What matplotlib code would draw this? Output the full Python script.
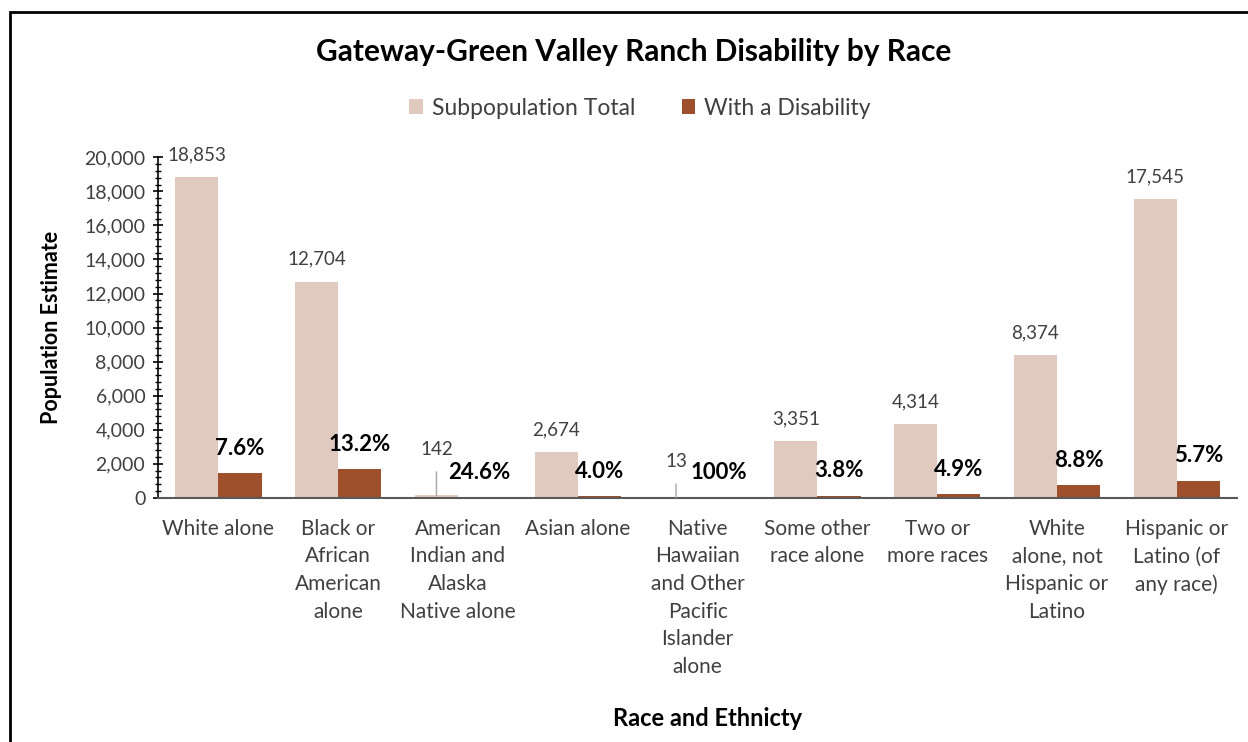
import matplotlib.pyplot as plt
from matplotlib.patches import Rectangle
from matplotlib.ticker import MultipleLocator, FuncFormatter

plt.rcParams['font.family'] = ['Lato', 'DejaVu Sans']

categories = ["White alone", "Black or\nAfrican\nAmerican\nalone",
              "American\nIndian and\nAlaska\nNative alone", "Asian alone",
              "Native\nHawaiian\nand Other\nPacific\nIslander\nalone",
              "Some other\nrace alone", "Two or\nmore races",
              "White\nalone, not\nHispanic or\nLatino",
              "Hispanic or\nLatino (of\nany race)"]
totals = [18853, 12704, 142, 2674, 13, 3351, 4314, 8374, 17545]
disabled = [1433, 1677, 35, 107, 13, 127, 211, 737, 1000]
pct_labels = ["7.6%", "13.2%", "24.6%", "4.0%", "100%", "3.8%", "4.9%", "8.8%", "5.7%"]

pale = "#e0cac0"
dark = "#9e4f2b"
grey = "#404040"

fig = plt.figure(figsize=(12.48, 7.42), dpi=100)
ax = fig.add_axes([0.127, 0.329, 0.864, 0.459])

x = list(range(len(categories)))
w = 0.36
ax.bar([i - w / 2 for i in x], totals, width=w, color=pale, label="Subpopulation Total")
ax.bar([i + w / 2 for i in x], disabled, width=w, color=dark, label="With a Disability")

# labels for subpopulation totals (leader lines for tiny bars)
for i, v in enumerate(totals):
    if v < 500:
        off = 46 if v > 100 else 36
        ax.annotate(f"{v:,}", xy=(i - w / 2, v), xytext=(0, off * 0.72),
                    textcoords="offset points", ha="center", va="center",
                    fontsize=13.5, color=grey,
                    arrowprops=dict(arrowstyle="-", color="#a6a6a6", lw=1,
                                    shrinkA=8, shrinkB=0))
    else:
        ax.annotate(f"{v:,}", xy=(i - w / 2, v), xytext=(0, 16),
                    textcoords="offset points", ha="center", va="center",
                    fontsize=13.5, color=grey)

for i, v in enumerate(disabled):
    ax.annotate(pct_labels[i], xy=(i + w / 2, v), xytext=(0, 18),
                textcoords="offset points", ha="center", va="center",
                fontsize=16, fontweight="bold", color="black")

ax.set_xlim(-0.5, len(categories) - 0.5)
ax.set_ylim(0, 20000)
ax.yaxis.set_major_locator(MultipleLocator(2000))
ax.yaxis.set_minor_locator(MultipleLocator(400))
ax.yaxis.set_major_formatter(FuncFormatter(lambda v, p: f"{int(v):,}"))
ax.set_xticks(x)
ax.set_xticklabels(categories, fontsize=15, color=grey, linespacing=1.48, va="top")
ax.tick_params(axis="x", length=0, pad=15)
ax.tick_params(axis="y", which="major", length=7, width=1.2, labelsize=14,
               labelcolor=grey, direction="inout", pad=6)
ax.tick_params(axis="y", which="minor", length=4, width=1, direction="inout")
for s in ["top", "right"]:
    ax.spines[s].set_visible(False)
ax.spines["left"].set_linewidth(1.2)
ax.spines["bottom"].set_color("#595959")
ax.spines["bottom"].set_linewidth(1.5)

ax.set_ylabel("Population Estimate", fontsize=15.5, fontweight="bold", labelpad=16)
fig.text(0.567, 0.032, "Race and Ethnicty", fontsize=17, fontweight="bold",
         ha="center", va="center")
fig.text(0.508, 0.93, "Gateway-Green Valley Ranch Disability by Race",
         fontsize=21.5, fontweight="bold", ha="center", va="center")

fig.legend(loc="center", bbox_to_anchor=(0.513, 0.854), ncol=2, frameon=False,
           fontsize=16.5, labelcolor=grey, handlelength=0.6, handleheight=0.6,
           handletextpad=0.4, columnspacing=2.0)

# outer chart frame (cropped at right and bottom)
fig.patches.append(Rectangle((10 / 1248, -0.1), 1.2, 1 - 12 / 742 + 0.1,
                             transform=fig.transFigure, fill=False,
                             edgecolor="black", lw=2))

plt.savefig("out.png", dpi=100)
